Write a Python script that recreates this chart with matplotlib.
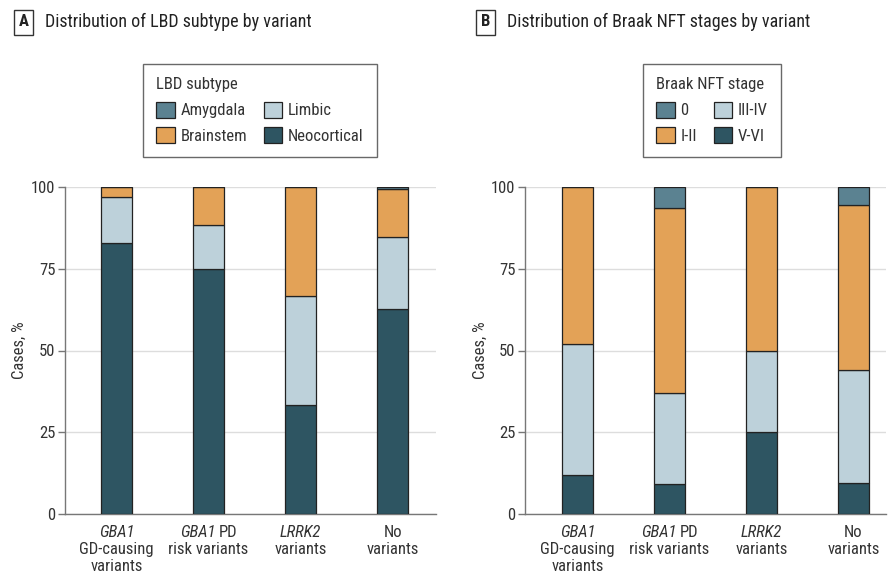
import matplotlib
matplotlib.use("Agg")
import matplotlib.pyplot as plt
from matplotlib import font_manager
from matplotlib.patches import Patch
from matplotlib.offsetbox import TextArea, HPacker, VPacker, AnnotationBbox

# pick the narrowest sans that is installed
installed = {f.name for f in font_manager.fontManager.ttflist}
candidates = ["Liberation Sans Narrow", "DejaVu Sans Condensed", "Roboto Condensed",
              "Open Sans Condensed", "Lato", "Roboto"]
FONT = next((c for c in candidates if c in installed), "DejaVu Sans")
plt.rcParams["font.family"] = [FONT, "DejaVu Sans"]

# x categories (shared by both panels); each line is a list of (text, italic)
variants = [
    [[("GBA1", True)], [("GD-causing", False)], [("variants", False)]],
    [[("GBA1", True), ("PD", False)], [("risk variants", False)]],
    [[("LRRK2", True)], [("variants", False)]],
    [[("No", False)], [("variants", False)]],
]

# Panel A: LBD subtype, % of cases (stack order bottom -> top)
neocortical = [83.0, 75.0, 33.3, 62.7]
limbic = [14.0, 13.4, 33.4, 22.0]
brainstem = [3.0, 11.6, 33.3, 14.6]
amygdala = [0.0, 0.0, 0.0, 0.7]

# Panel B: Braak NFT stage, % of cases (stack order bottom -> top)
braak_56 = [12.0, 9.1, 25.0, 9.4]
braak_34 = [40.0, 27.8, 25.0, 34.6]
braak_12 = [48.0, 56.6, 50.0, 50.4]
braak_0 = [0.0, 6.5, 0.0, 5.6]

C_DARK = "#2e5562"
C_LIGHT = "#bdd1da"
C_ORANGE = "#e3a257"
C_MID = "#5b8291"
TXT = "#333333"
FS = 12

W, H = 888, 579
fig = plt.figure(figsize=(W / 100, H / 100), dpi=100)


def px_axes(x0, x1, y0, y1):
    return fig.add_axes([x0 / W, 1 - y1 / H, (x1 - x0) / W, (y1 - y0) / H])


def xlabel(ax, x, lines):
    rows = []
    for line in lines:
        parts = [TextArea(t, textprops=dict(fontsize=FS, color=TXT,
                                            fontstyle="italic" if it else "normal"))
                 for t, it in line]
        rows.append(HPacker(children=parts, sep=2.5, pad=0, align="baseline"))
    box = VPacker(children=rows, sep=1.5, pad=0, align="center")
    ab = AnnotationBbox(box, (x, 0), xycoords=ax.get_xaxis_transform(),
                        xybox=(0, -8), boxcoords="offset points",
                        box_alignment=(0.5, 1), frameon=False, annotation_clip=False)
    ax.add_artist(ab)


def stacked(ax, series, colors, xlim, ylab_x):
    x = list(range(len(variants)))
    bottom = [0.0] * len(variants)
    for vals, col in zip(series, colors):
        ax.bar(x, vals, width=0.34, bottom=bottom, color=col,
               edgecolor="#222222", linewidth=0.9, zorder=3)
        bottom = [b + v for b, v in zip(bottom, vals)]
    ax.set_xlim(*xlim)
    ax.set_ylim(0, 100)
    ax.set_yticks([0, 25, 50, 75, 100])
    ax.set_xticks(x)
    ax.set_xticklabels([])
    for xi, lines in zip(x, variants):
        xlabel(ax, xi, lines)
    ax.tick_params(axis="x", length=0)
    ax.tick_params(axis="y", labelsize=FS, labelcolor=TXT,
                   length=5, width=1, color="#777777", pad=2)
    ax.yaxis.grid(True, color="#dddddd", linewidth=1, zorder=0)
    ax.set_axisbelow(True)
    for s in ["top", "right"]:
        ax.spines[s].set_visible(False)
    for s in ["left", "bottom"]:
        ax.spines[s].set_color("#777777")
        ax.spines[s].set_linewidth(1)
    ax.set_ylabel("Cases, %", fontsize=FS, color=TXT)
    ax.yaxis.set_label_coords(ylab_x, 0.5)


axA = px_axes(65, 436, 187, 514)
stacked(axA, [neocortical, limbic, brainstem, amygdala],
        [C_DARK, C_LIGHT, C_ORANGE, C_MID], (-0.56, 3.47), -38 / 371)

axB = px_axes(525, 886, 187, 514)
stacked(axB, [braak_56, braak_34, braak_12, braak_0],
        [C_DARK, C_LIGHT, C_ORANGE, C_MID], (-0.571, 3.353), -37 / 361)


def legend(title, labels, colors, x, y):
    handles = [Patch(facecolor=c, edgecolor="#222222", linewidth=0.9) for c in colors]
    leg = fig.legend(handles, labels, title=title, ncol=2, loc="upper left",
                     bbox_to_anchor=(x / W, 1 - y / H), fontsize=FS,
                     title_fontsize=FS, frameon=True, fancybox=False,
                     edgecolor="#444444", handlelength=1.1, handleheight=1.1,
                     handletextpad=0.35, columnspacing=1.0, labelspacing=0.55,
                     borderpad=0.8, alignment="left", borderaxespad=0)
    leg.get_frame().set_linewidth(1)
    for t in leg.get_texts():
        t.set_color(TXT)
    leg.get_title().set_color(TXT)
    return leg


legend("LBD subtype", ["Amygdala", "Brainstem", "Limbic", "Neocortical"],
       [C_MID, C_ORANGE, C_LIGHT, C_DARK], 143, 64)
legend("Braak NFT stage", ["0", "I-II", "III-IV", "V-VI"],
       [C_MID, C_ORANGE, C_LIGHT, C_DARK], 643, 64)

box = dict(boxstyle="square,pad=0.3", facecolor="white", edgecolor=TXT, linewidth=1)
fig.text(23.5 / W, 1 - 22 / H, "A", fontsize=FS, fontweight="bold", ha="center",
         va="center", bbox=box, color="#222222")
fig.text(45 / W, 1 - 22 / H, "Distribution of LBD subtype by variant",
         fontsize=13, va="center", color="#222222")
fig.text(485.5 / W, 1 - 22 / H, "B", fontsize=FS, fontweight="bold", ha="center",
         va="center", bbox=box, color="#222222")
fig.text(507 / W, 1 - 22 / H, "Distribution of Braak NFT stages by variant",
         fontsize=13, va="center", color="#222222")

fig.savefig("out.png", dpi=100)
